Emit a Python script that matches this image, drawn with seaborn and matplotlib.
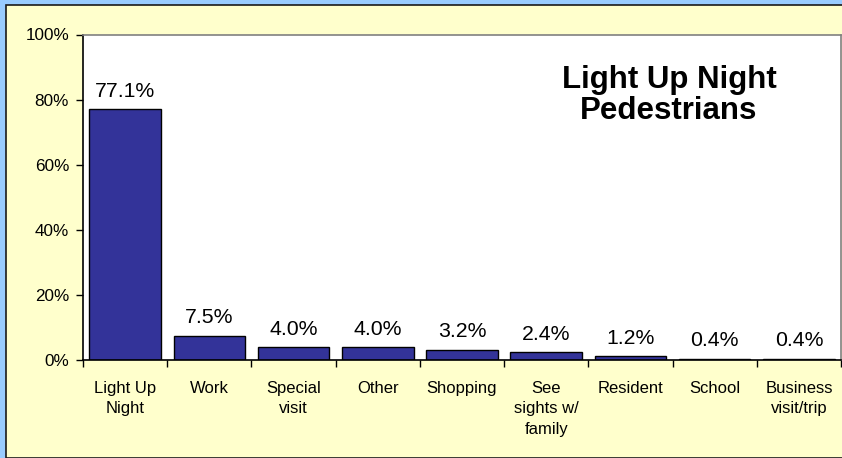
import matplotlib
matplotlib.use("Agg")
import matplotlib.pyplot as plt
import seaborn as sns
import pandas as pd
from matplotlib.patches import Rectangle
from matplotlib.ticker import FixedLocator, PercentFormatter

categories = ["Light Up\nNight", "Work", "Special\nvisit", "Other", "Shopping",
              "See\nsights w/\nfamily", "Resident", "School", "Business\nvisit/trip"]
values = [77.1, 7.5, 4.0, 4.0, 3.2, 2.4, 1.2, 0.4, 0.4]
value_labels = ["77.1%", "7.5%", "4.0%", "4.0%", "3.2%", "2.4%", "1.2%", "0.4%", "0.4%"]
yticks = [0, 20, 40, 60, 80, 100]
title_text = "Light Up Night\nPedestrians"

sns.set_theme(style="white")
plt.rcParams['font.family'] = ['Liberation Sans', 'DejaVu Sans']

W, H = 842, 458
fig = plt.figure(figsize=(W / 100, H / 100), dpi=100)
fig.patch.set_facecolor("#99CCFF")
fig.patches.append(Rectangle((6 / W, 0), 1, 1 - 5 / H, transform=fig.transFigure,
                             facecolor="#FFFFCC", edgecolor="#1a1a1a", linewidth=1.2,
                             zorder=-10))

ax = fig.add_axes([83 / W, 1 - 360 / H, (841 - 83) / W, (360 - 34.5) / H])
ax.set_facecolor("white")

df = pd.DataFrame({"cat": categories, "val": values})
sns.barplot(data=df, x="cat", y="val", ax=ax, color="#333399", saturation=1,
            width=0.85, edgecolor="black", linewidth=1.0, order=categories)

for i, (v, lab) in enumerate(zip(values, value_labels)):
    ax.annotate(lab, (i, v), xytext=(0, 6), textcoords="offset points",
                ha="center", va="bottom", fontsize=15.3, color="black")

ax.set_xlim(-0.5, len(categories) - 0.5)
ax.set_ylim(0, 100)
ax.yaxis.set_major_locator(FixedLocator(yticks))
ax.yaxis.set_major_formatter(PercentFormatter(decimals=0))
ax.set_xlabel("")
ax.set_ylabel("")

ax.xaxis.set_minor_locator(FixedLocator([i + 0.5 for i in range(-1, len(categories))]))
ax.tick_params(axis="x", which="major", length=0, pad=15, labelsize=12, colors="black")
ax.tick_params(axis="x", which="minor", length=5, width=1, color="black", direction="out", bottom=True)
ax.tick_params(axis="y", which="major", length=5, width=1, color="black", direction="out",
               left=True, pad=5, labelsize=12.3, labelcolor="black")
for lab in ax.get_xticklabels():
    lab.set_linespacing(1.45)
    lab.set_verticalalignment("top")

for s in ["left", "bottom"]:
    ax.spines[s].set_color("black")
    ax.spines[s].set_linewidth(1.2)
for s in ["top", "right"]:
    ax.spines[s].set_color("#808080")
    ax.spines[s].set_linewidth(1.2)

ax.text(0.773, 0.812, title_text, transform=ax.transAxes, ha="center", va="center",
        fontsize=22.5, fontweight="bold", color="black", linespacing=1.05)

fig.savefig("out.png", dpi=100, facecolor=fig.get_facecolor())
